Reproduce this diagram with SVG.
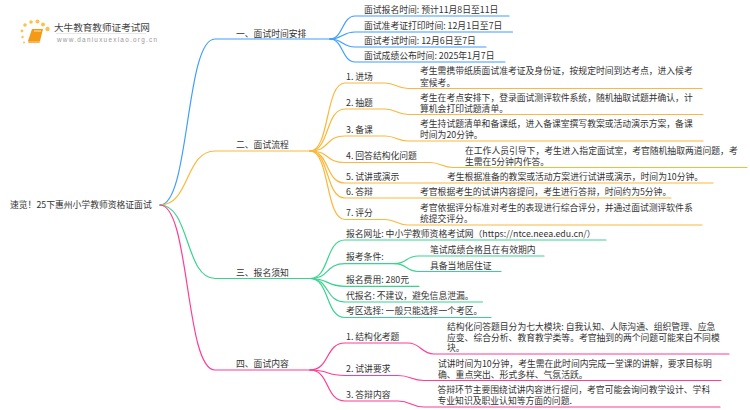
<svg xmlns="http://www.w3.org/2000/svg" width="750" height="410" viewBox="0 0 750 410">
<style>
text{font-family:"Noto Sans CJK SC","Liberation Sans",sans-serif;font-size:8.8px;fill:#333}
.c{fill:none;stroke-width:1.2;stroke-linecap:round}
.b{stroke:#3f9eff}.o{stroke:#fbb83c}.g{stroke:#39d38f}.p{stroke:#ff3d94}
</style>
<rect width="750" height="410" fill="#fff"/>
<g id="connectors">
<path class="c b" d="M160 205C190 205 185 39 215 39H330"/>
<path class="c o" d="M160 205C190 205 185 151 215 151H310"/>
<path class="c g" d="M160 205C190 205 185 278.500 215 278.500H310"/>
<path class="c p" d="M160 205C190 205 185 370 215 370H310"/>
<path class="c b" d="M330 39C343 39 342 16 355 16H509"/>
<path class="c b" d="M330 39C343 39 342 32 355 32H512.500"/>
<path class="c b" d="M330 39C343 39 342 47 355 47H486"/>
<path class="c b" d="M330 39C343 39 342 62 355 62H505"/>
<path class="c o" d="M310 151C330 151 325 83 345 83H385C396 83 397 88.500 408 88.500H702"/>
<path class="c o" d="M310 151C330 151 325 109 345 109H385C396 109 397 114.500 408 114.500H703"/>
<path class="c o" d="M310 151C330 151 325 136 345 136H385C396 136 397 141 408 141H703"/>
<path class="c o" d="M310 151C330 151 325 162.500 345 162.500H430C441 162.500 442 167.500 453 167.500H747"/>
<path class="c o" d="M310 151C330 151 325 183 345 183H713"/>
<path class="c o" d="M310 151C330 151 325 198 345 198H671"/>
<path class="c o" d="M310 151C330 151 325 219.500 345 219.500H385C396 219.500 397 225 408 225H702"/>
<path class="c g" d="M310 278.500C330 278.500 325 240 345 240H606"/>
<path class="c g" d="M310 278.500C330 278.500 325 263.700 345 263.700H395C407 263.700 406 256 418 256H544"/>
<path class="c g" d="M395 263.700C407 263.700 406 271.500 418 271.500H501"/>
<path class="c g" d="M310 278.500C330 278.500 325 286.300 345 286.300H419"/>
<path class="c g" d="M310 278.500C330 278.500 325 302 345 302H482.500"/>
<path class="c g" d="M310 278.500C330 278.500 325 317.500 345 317.500H491"/>
<path class="c p" d="M310 370C330 370 325 343 345 343H408C421 343 421 354 434 354H729"/>
<path class="c p" d="M310 370C330 370 325 375.500 345 375.500H398C411 375.500 411 380.500 424 380.500H721"/>
<path class="c p" d="M310 370C330 370 325 401 345 401H398C411 401 411 407 424 407H720"/>
</g>
<g id="logo">
<g fill="#fcc24a"><circle cx="22" cy="31" r="1.400"/><circle cx="25" cy="25" r="1.800"/><circle cx="31" cy="22" r="1.800"/><circle cx="37.500" cy="21.500" r="2"/><circle cx="43" cy="24.500" r="2"/><circle cx="47.500" cy="29" r="2.200"/><circle cx="22.500" cy="37" r="1.200"/><circle cx="24" cy="42.500" r="1"/></g>
<path d="M32 29H43L40 41H28Z" fill="#f59a14"/><path d="M28 41H40L39.500 43H28.500Z" fill="#f7b457"/><path d="M34 31H41" stroke="#fde3b0" stroke-width="1"/>
<text x="54" y="30.500" style="font-size:9.600px;fill:#444">大牛教育教师证考试网</text>
<path d="M56 33.500H146" stroke="#e8e8e8" stroke-width="1"/>
<text x="57" y="41.500" style="font-size:6.400px;fill:#999;letter-spacing:1.250px;font-family:'Liberation Sans',sans-serif">www.daniuxuexiao.org.cn</text>
</g>
<g id="root"><text x="10" y="208">速览！25下惠州小学教师资格证面试</text></g>
<g id="n1"><text x="236" y="36.500">一、面试时间安排</text></g>
<g id="n1-1"><text x="364" y="13">面试报名时间: 预计11月8日至11日</text></g>
<g id="n1-2"><text x="364" y="28.500">面试准考证打印时间: 12月1日至7日</text></g>
<g id="n1-3"><text x="364" y="44">面试考试时间: 12月6日至7日</text></g>
<g id="n1-4"><text x="364" y="59">面试成绩公布时间: 2025年1月7日</text></g>
<g id="n2"><text x="236" y="148">二、面试流程</text></g>
<g id="n2-1"><text x="346" y="80">1. 进场</text><text x="420" y="74">考生需携带纸质面试准考证及身份证，按规定时间到达考点，进入候考</text><text x="420" y="85.500">室候考。</text></g>
<g id="n2-2"><text x="346" y="106">2. 抽题</text><text x="420" y="100.500">考生在考点安排下，登录面试测评软件系统，随机抽取试题并确认，计</text><text x="420" y="111.500">算机会打印试题清单。</text></g>
<g id="n2-3"><text x="346" y="133">3. 备课</text><text x="420" y="127">考生持试题清单和备课纸，进入备课室撰写教案或活动演示方案，备课</text><text x="420" y="138">时间为20分钟。</text></g>
<g id="n2-4"><text x="346" y="159">4. 回答结构化问题</text><text x="465" y="154">在工作人员引导下，考生进入指定面试室，考官随机抽取两道问题，考</text><text x="465" y="165">生需在5分钟内作答。</text></g>
<g id="n2-5"><text x="346" y="180">5. 试讲或演示</text><text x="447" y="180">考生根据准备的教案或活动方案进行试讲或演示，时间为10分钟。</text></g>
<g id="n2-6"><text x="346" y="195">6. 答辩</text><text x="420" y="195">考官根据考生的试讲内容提问，考生进行答辩，时间约为5分钟。</text></g>
<g id="n2-7"><text x="346" y="216">7. 评分</text><text x="420" y="211">考官依据评分标准对考生的表现进行综合评分，并通过面试测评软件系</text><text x="420" y="222">统提交评分。</text></g>
<g id="n3"><text x="236" y="276">三、报名须知</text></g>
<g id="n3-1"><text x="346" y="237">报名网址: 中小学教师资格考试网（https://ntce.neea.edu.cn/）</text></g>
<g id="n3-2"><text x="346" y="260">报考条件:</text></g>
<g id="n3-2a"><text x="430" y="253">笔试成绩合格且在有效期内</text></g>
<g id="n3-2b"><text x="430" y="268.500">具备当地居住证</text></g>
<g id="n3-3"><text x="346" y="283">报名费用: 280元</text></g>
<g id="n3-4"><text x="346" y="299">代报名: 不建议，避免信息泄漏。</text></g>
<g id="n3-5"><text x="346" y="314">考区选择: 一般只能选择一个考区。</text></g>
<g id="n4"><text x="236" y="367">四、面试内容</text></g>
<g id="n4-1"><text x="346" y="340">1. 结构化考题</text><text x="447" y="330">结构化问答题目分为七大模块: 自我认知、人际沟通、组织管理、应急</text><text x="447" y="340.500">应变、综合分析、教育教学类等。考官抽到的两个问题可能来自不同模</text><text x="447" y="351">块。</text></g>
<g id="n4-2"><text x="346" y="372">2. 试讲要求</text><text x="438" y="367">试讲时间为10分钟，考生需在此时间内完成一堂课的讲解，要求目标明</text><text x="438" y="378">确、重点突出、形式多样、气氛活跃。</text></g>
<g id="n4-3"><text x="346" y="398">3. 答辩内容</text><text x="437.500" y="393">答辩环节主要围绕试讲内容进行提问，考官可能会询问教学设计、学科</text><text x="437.500" y="404">专业知识及职业认知等方面的问题.</text></g>
</svg>
